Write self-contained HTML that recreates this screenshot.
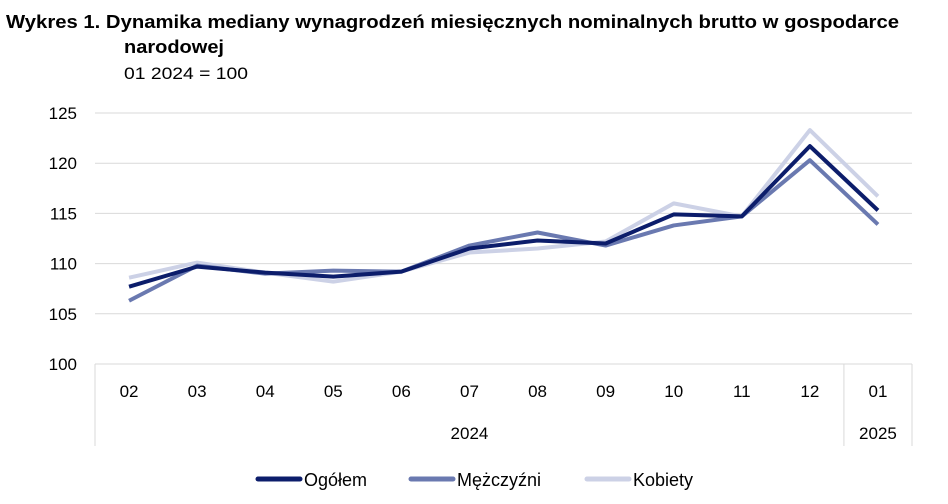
<!DOCTYPE html>
<html><head><meta charset="utf-8"><style>
body{margin:0;background:#fff;font-family:"Liberation Sans",sans-serif;}
#wrap{position:relative;width:948px;height:504px;overflow:hidden}
</style></head><body>
<div id="wrap">
<svg id="svg" width="948" height="504">
<text x="6" y="28" font-size="18" font-weight="bold" fill="#000" textLength="893" lengthAdjust="spacingAndGlyphs">Wykres 1. Dynamika mediany wynagrodzeń miesięcznych nominalnych brutto w gospodarce</text>
<text x="124" y="53" font-size="18" font-weight="bold" fill="#000" textLength="100" lengthAdjust="spacingAndGlyphs">narodowej</text>
<text x="124" y="79" font-size="17" fill="#000" textLength="124" lengthAdjust="spacingAndGlyphs">01 2024 = 100</text>
<g id="grid"></g><g id="series"></g><g id="axes"></g>
</svg>
</div>
<script>
const categories=["02","03","04","05","06","07","08","09","10","11","12","01"];
const yTicks=[100,105,110,115,120,125];
const ogolem=[107.7,109.7,109.1,108.7,109.2,111.5,112.3,112.0,114.9,114.7,121.7,115.3];
const mezczyzni=[106.3,109.8,109.0,109.3,109.2,111.8,113.1,111.8,113.8,114.7,120.3,113.9];
const kobiety=[108.6,110.1,109.1,108.2,109.2,111.1,111.5,112.2,116.0,114.7,123.3,116.7];
const NS="http://www.w3.org/2000/svg";
const L=95,R=912,T=113,B=364;
const step=(R-L)/categories.length;
const x=i=>L+step*(i+0.5);
const y=v=>B-(v-100)/25*(B-T);
function mk(tag,attrs,parent){const e=document.createElementNS(NS,tag);for(const k in attrs)e.setAttribute(k,attrs[k]);parent.appendChild(e);return e;}
const grid=document.getElementById('grid'),ax=document.getElementById('axes'),se=document.getElementById('series');
yTicks.forEach(t=>{
 const l=mk('line',{x1:L,x2:R,y1:y(t),y2:y(t),stroke:'#d9d9d9','stroke-width':1},grid);
 
 
 const tx=mk('text',{x:77,y:y(t)+6,'text-anchor':'end','font-size':17,fill:'#000'},ax);
 tx.textContent=t;
 
 
});
[L,L+step*11,R].forEach(px=>{
 const l=mk('line',{x1:px,x2:px,y1:B,y2:446,stroke:'#d9d9d9','stroke-width':1},ax);
 
 
});
categories.forEach((c,i)=>{
 const tx=mk('text',{x:x(i),y:397,'text-anchor':'middle','font-size':17,fill:'#000'},ax);
 tx.textContent=c;
 
 
});
const y1=mk('text',{x:(L+L+step*11)/2,y:439,'text-anchor':'middle','font-size':17,fill:'#000'},ax);y1.textContent='2024';


const y2=mk('text',{x:x(11),y:439,'text-anchor':'middle','font-size':17,fill:'#000'},ax);y2.textContent='2025';


const series=[["kobiety",kobiety,"#ccd1e6"],["mezczyzni",mezczyzni,"#6a79b0"],["ogolem",ogolem,"#0c1d6b"]];
series.forEach(([n,d,c])=>{
 const p=mk('polyline',{points:d.map((v,i)=>x(i)+','+y(v)).join(' '),fill:'none',stroke:c,'stroke-width':4,'stroke-linejoin':'round'},se);
 
 
});
const leg=[["Ogółem","#0c1d6b",258],["Mężczyźni","#6a79b0",411],["Kobiety","#ccd1e6",587]];
leg.forEach(([t,c,lx])=>{
 const l=mk('line',{x1:lx,x2:lx+42,y1:479,y2:479,stroke:c,'stroke-width':5,'stroke-linecap':'round'},ax);
 
 
 const tx=mk('text',{x:lx+46,y:486,'font-size':18,fill:'#000'},ax);tx.textContent=t;
 
 
});
</script>
</body></html>
